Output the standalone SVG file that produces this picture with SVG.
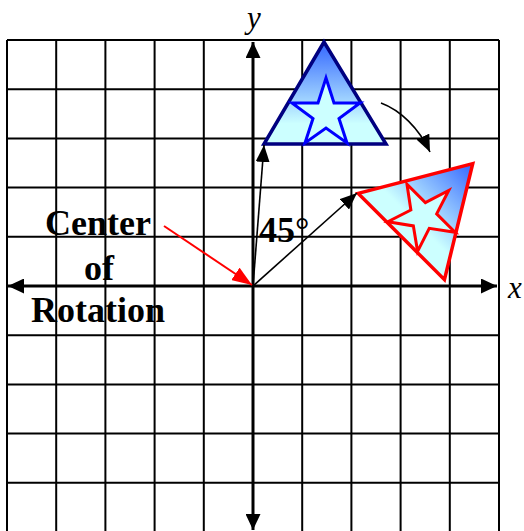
<svg xmlns="http://www.w3.org/2000/svg" width="524" height="531" viewBox="0 0 524 531">
  <style>
    .grid line { stroke: #000; stroke-width: 2; }
    .axis { stroke: #000; stroke-width: 3; fill: none; }
    .thin { stroke: #000; stroke-width: 1.6; fill: none; }
    .lbl { font-family: "Liberation Serif", "Times New Roman", serif; font-weight: bold; font-size: 36px; fill: #000; }
    .ax { font-family: "Liberation Serif", "Times New Roman", serif; font-style: italic; font-size: 31px; fill: #000; }
  </style>
  <defs>
    <linearGradient id="gradTri" x1="0" y1="0" x2="0" y2="1">
      <stop offset="0" stop-color="#3366ff"/>
      <stop offset="0.8" stop-color="#ccffff"/>
      <stop offset="1" stop-color="#ccffff"/>
    </linearGradient>
    <marker id="arrowBlack" markerUnits="userSpaceOnUse" markerWidth="17" markerHeight="14" refX="17" refY="7" orient="auto">
      <path d="M0,0 L17,7 L0,14 z" fill="#000"/>
    </marker>
    <marker id="arrowRed" markerUnits="userSpaceOnUse" markerWidth="20" markerHeight="15" refX="20" refY="7.5" orient="auto">
      <path d="M0,0 L20,7.5 L0,15 z" fill="#ff0000"/>
    </marker>
    <marker id="axisHead" markerUnits="userSpaceOnUse" markerWidth="16" markerHeight="15" refX="16" refY="7.5" orient="auto">
      <path d="M0,0 L16,7.5 L0,15 z" fill="#000"/>
    </marker>
  </defs>

  <rect x="0" y="0" width="524" height="531" fill="#fff"/>

  <g id="grid" class="grid">
    <line x1="7" y1="40" x2="7" y2="531"/>
    <line x1="56.2" y1="40" x2="56.2" y2="531"/>
    <line x1="105.4" y1="40" x2="105.4" y2="531"/>
    <line x1="154.6" y1="40" x2="154.6" y2="531"/>
    <line x1="203.8" y1="40" x2="203.8" y2="531"/>
    <line x1="302.2" y1="40" x2="302.2" y2="531"/>
    <line x1="351.4" y1="40" x2="351.4" y2="531"/>
    <line x1="400.6" y1="40" x2="400.6" y2="531"/>
    <line x1="449.8" y1="40" x2="449.8" y2="531"/>
    <line x1="499" y1="40" x2="499" y2="531"/>
    <line x1="7" y1="40" x2="499" y2="40"/>
    <line x1="7" y1="89.2" x2="499" y2="89.2"/>
    <line x1="7" y1="138.4" x2="499" y2="138.4"/>
    <line x1="7" y1="187.6" x2="499" y2="187.6"/>
    <line x1="7" y1="236.8" x2="499" y2="236.8"/>
    <line x1="7" y1="335.2" x2="499" y2="335.2"/>
    <line x1="7" y1="384.4" x2="499" y2="384.4"/>
    <line x1="7" y1="433.6" x2="499" y2="433.6"/>
    <line x1="7" y1="482.8" x2="499" y2="482.8"/>
  </g>

  <g id="axes">
    <line class="axis" x1="253" y1="286" x2="497" y2="286" marker-end="url(#axisHead)"/>
    <line class="axis" x1="253" y1="286" x2="8" y2="286" marker-end="url(#axisHead)"/>
    <line class="axis" x1="253" y1="286" x2="253" y2="42" marker-end="url(#axisHead)"/>
    <line class="axis" x1="253" y1="286" x2="253" y2="530" marker-end="url(#axisHead)"/>
    <text class="ax" x="254" y="28" text-anchor="middle">y</text>
    <text class="ax" x="508" y="298" font-size="33">x</text>
  </g>

  <g id="original-triangle">
    <polygon points="324,42 264,144 386,144" fill="url(#gradTri)" stroke="#000080" stroke-width="3.5" stroke-linejoin="miter"/>
    <polygon points="326,78 334,103 360,103 339,118.5 347,143 326,128 305,143 313,118.5 292,103 318,103" fill="#ccffff" stroke="#0000ff" stroke-width="3"/>
  </g>

  <g id="rotated-triangle" transform="translate(-3 0) rotate(45 253 286)">
    <polygon points="324,42 264,144 386,144" fill="url(#gradTri)" stroke="#ff0000" stroke-width="3.5"/>
    <polygon points="326,78 334,103 360,103 339,118.5 347,143 326,128 305,143 313,118.5 292,103 318,103" fill="#ccffff" stroke="#ff0000" stroke-width="3"/>
  </g>

  <g id="connectors">
    <line class="thin" x1="253" y1="286" x2="264" y2="145" marker-end="url(#arrowBlack)"/>
    <line class="thin" x1="253" y1="286" x2="357" y2="193" marker-end="url(#arrowBlack)"/>
    <path class="thin" d="M381,103 C400,110 419,128 430,152" stroke-width="2" marker-end="url(#arrowBlack)"/>
    <line x1="164" y1="226" x2="252" y2="285" stroke="#ff0000" stroke-width="2" marker-end="url(#arrowRed)"/>
  </g>

  <g id="labels">
    <text class="lbl" x="98" y="235" text-anchor="middle">Center</text>
    <text class="lbl" x="99" y="280" text-anchor="middle">of</text>
    <text class="lbl" x="98" y="322" text-anchor="middle">Rotation</text>
    <text class="lbl" x="259" y="242" font-size="32">45<tspan font-weight="normal">°</tspan></text>
  </g>
</svg>
